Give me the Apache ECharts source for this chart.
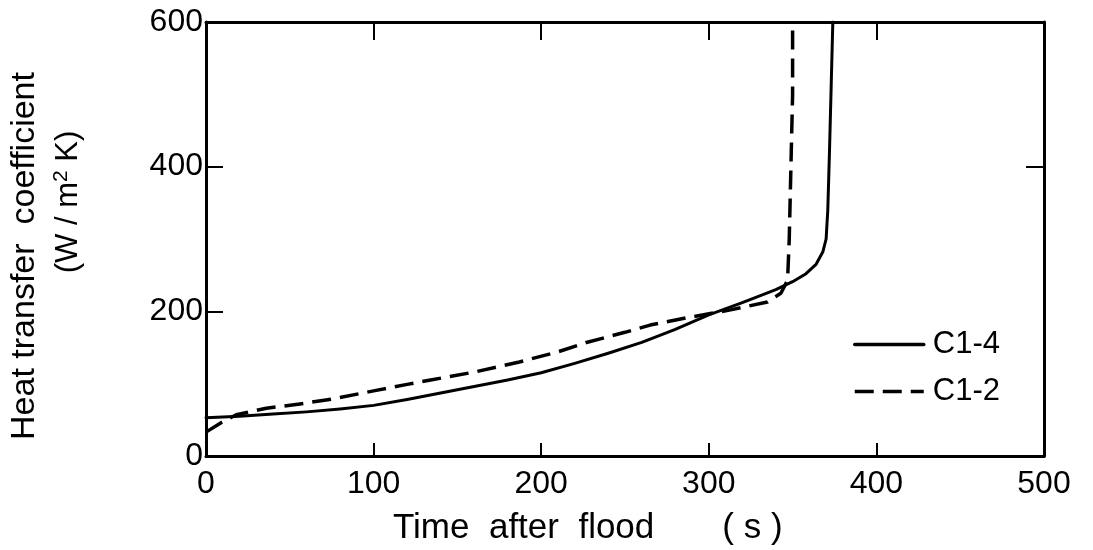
<!DOCTYPE html>
<html>
<head>
<meta charset="utf-8">
<script src="https://cdn.jsdelivr.net/npm/echarts@6/dist/echarts.min.js"></script>
<style>
  html, body { margin: 0; padding: 0; background: #fff; }
  #chart { width: 1093px; height: 550px; }
</style>
</head>
<body>
<div id="chart"></div>
<script>
// Heat transfer coefficient vs. time after flood, runs C1-4 and C1-2
const seriesNames = ['C1-4', 'C1-2'];

// [time (s), h (W/m2 K)]
const c14 = [
  [0, 53], [20, 55], [40, 58], [60, 61], [80, 65], [100, 70], [120, 78],
  [140, 87], [160, 96], [180, 105], [200, 115], [220, 128], [240, 142],
  [260, 157], [280, 175], [300, 195], [320, 212], [340, 230], [350, 241],
  [358, 252], [364, 265], [368, 282], [370, 300], [371, 340], [372, 420],
  [373, 510], [374, 600]
];
const c12 = [
  [0, 33], [9, 46], [18, 57], [36, 66], [56, 72], [76, 79], [100, 90],
  [120, 99], [134, 105], [160, 116], [187, 130], [210, 144], [227, 157],
  [250, 171], [265, 181], [289, 192], [313, 202], [335, 213], [343, 225],
  [347, 243], [348, 300], [349, 400], [350, 500], [350, 600]
];

const xTicks = [0, 100, 200, 300, 400, 500];
const yTicks = [0, 200, 400, 600];

const FONT = '"Liberation Sans", Arial, sans-serif';
const INK = '#000';

const frameAxis = {
  axisLine: { show: true, onZero: false, lineStyle: { color: INK, width: 3 } },
  splitLine: { show: false }
};

const chart = echarts.init(document.getElementById('chart'), null, { renderer: 'canvas' });

chart.setOption({
  backgroundColor: '#fff',
  animation: false,
  grid: { left: 206, top: 22, right: 49, bottom: 94, containLabel: false },
  xAxis: [
    Object.assign({}, frameAxis, {
      type: 'value', position: 'bottom',
      min: xTicks[0], max: xTicks[xTicks.length - 1], interval: 100,
      axisTick: { show: true, inside: true, length: 13, lineStyle: { color: INK, width: 2 } },
      axisLabel: { color: INK, fontSize: 32, fontFamily: FONT, margin: 12 }
    }),
    Object.assign({}, frameAxis, {
      type: 'value', position: 'top',
      min: xTicks[0], max: xTicks[xTicks.length - 1], interval: 100,
      axisTick: { show: true, inside: true, length: 18, lineStyle: { color: INK, width: 2 } },
      axisLabel: { show: false }
    })
  ],
  yAxis: [
    Object.assign({}, frameAxis, {
      type: 'value', position: 'left',
      min: yTicks[0], max: yTicks[yTicks.length - 1], interval: 200,
      axisTick: { show: true, inside: true, length: 17, lineStyle: { color: INK, width: 2 } },
      axisLabel: { color: INK, fontSize: 32, fontFamily: FONT, margin: 3 }
    }),
    Object.assign({}, frameAxis, {
      type: 'value', position: 'right',
      min: 0, max: 600, interval: 400,
      axisTick: { show: true, inside: true, length: 18, lineStyle: { color: INK, width: 2 } },
      axisLabel: { show: false }
    })
  ],
  legend: {
    orient: 'vertical',
    left: 848, top: 322,
    itemWidth: 69, itemHeight: 12, itemGap: 12,
    itemStyle: { opacity: 0 },
    lineStyle: { width: 3.5 },
    textStyle: { color: INK, fontSize: 31, fontFamily: FONT, lineHeight: 35, padding: [0, 0, 0, 4] },
    data: seriesNames
  },
  series: [
    {
      name: seriesNames[0], type: 'line', data: c14,
      xAxisIndex: 0, yAxisIndex: 0,
      symbol: 'none', smooth: false,
      lineStyle: { color: INK, width: 3, cap: 'round', join: 'round' },
      itemStyle: { color: INK }
    },
    {
      name: seriesNames[1], type: 'line', data: c12,
      xAxisIndex: 0, yAxisIndex: 0,
      symbol: 'none', smooth: false,
      lineStyle: { color: INK, width: 3.5, type: [19, 9], join: 'round' },
      itemStyle: { color: INK }
    }
  ],
  graphic: [
    {
      type: 'text', x: 25, y: 256, rotation: Math.PI / 2,
      style: {
        text: 'Heat transfer  coefficient',
        font: '34px ' + FONT, fill: INK,
        textAlign: 'center', textVerticalAlign: 'middle'
      }
    },
    {
      type: 'text', x: 68, y: 202, rotation: Math.PI / 2,
      style: {
        text: '(W / m{sup|2} K)',
        font: '31px ' + FONT, fill: INK,
        textAlign: 'center', textVerticalAlign: 'middle',
        rich: { sup: { fontSize: 21, fontFamily: FONT, fill: INK, padding: [0, 0, 14, 0] } }
      }
    },
    {
      type: 'text', x: 393, y: 528,
      style: {
        text: 'Time  after  flood       ( s )',
        font: '35px ' + FONT, fill: INK,
        textAlign: 'left', textVerticalAlign: 'middle'
      }
    }
  ]
});
</script>
</body>
</html>
